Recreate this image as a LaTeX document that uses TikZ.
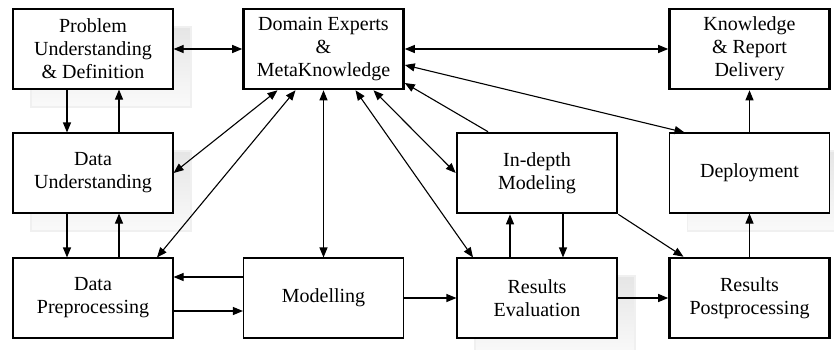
\documentclass[tikz,border=0pt]{standalone}
\usepackage{fontspec}
\setmainfont{Liberation Serif}
\usetikzlibrary{arrows.meta, shadows}

\tikzset{
  box/.style={draw, line width=1.1pt, fill=white, minimum width=160pt,
              minimum height=80pt, align=center, inner sep=2pt,
              font=\fontsize{20}{23}\selectfont},
  keybox/.style={box, line width=2.6pt},
  shadebox/.style={general shadow={shadow xshift=18pt, shadow yshift=-18pt,
              top color=black!10, bottom color=black!2, draw=black!6}},
}

\begin{document}
\begin{tikzpicture}[x=1pt, y=-1pt, line width=1.1pt,
                    >={Triangle[length=10pt,width=8pt]}]
             \useasboundingbox (0,0) rectangle (834,349);
             \node[box, shadebox] (prob)  at (93,49)    {Problem\\Understanding\\\& Definition};
             \node[keybox]        (dom)   at (323.5,49) {Domain Experts\\\&\\MetaKnowledge};
             \node[keybox]        (know)  at (749.5,49) {Knowledge\\\& Report\\Delivery};
             \node[box, shadebox] (und)   at (93,173)   {Data\\Understanding};
             \node[keybox]        (deep)  at (537,173)  {In-depth\\Modeling};
             \node[box, shadebox] (depl)  at (749.5,173) {Deployment};
             \node[box]           (prep)  at (93,298)   {Data\\Preprocessing};
             \node[box]           (model) at (323.5,298) {Modelling};
             \node[box, shadebox] (eval)  at (537,298)  {Results\\Evaluation};
             \node[keybox]        (post)  at (749.5,298) {Results\\Postprocessing};

             \draw [<->] (prob.east) -- (dom.west);
             \draw [<->] (dom.east) -- (know.west);
             \draw [->] ([xshift=-26pt]prob.south) -- ([xshift=-26pt]und.north);
             \draw [->] ([xshift=26pt]und.north) -- ([xshift=26pt]prob.south);
             \draw [->] ([xshift=-26pt]und.south) -- ([xshift=-26pt]prep.north);
             \draw [->] ([xshift=26pt]prep.north) -- ([xshift=26pt]und.south);

             \draw [<->] ([xshift=-46pt]dom.south) -- (und.east);
             \draw [<->] ([xshift=-28pt]dom.south) -- ([xshift=64pt]prep.north);
             \draw [<->] (dom.south) -- (model.north);
             \draw [<->] ([xshift=32pt]dom.south) -- ([xshift=-64pt]eval.north);
             \draw [<->] ([xshift=50pt]dom.south) -- (deep.west);
             \draw [->] ([xshift=-49pt]deep.north) -- ([yshift=-34pt]dom.east);
             \draw [<->] ([yshift=-16pt]dom.east) -- ([xshift=-65pt]depl.north);

             \draw [->] ([xshift=26pt]deep.south) -- ([xshift=26pt]eval.north);
             \draw [->] ([xshift=-27pt]eval.north) -- ([xshift=-27pt]deep.south);
             \draw [->] (deep.south east) -- ([xshift=-66pt]post.north);
             \draw [->] (post.north) -- (depl.south);
             \draw [->] (depl.north) -- (know.south);

             \draw [->] ([yshift=21pt]model.west) -- ([yshift=21pt]prep.east);
             \draw [->] ([yshift=-13pt]prep.east) -- ([yshift=-13pt]model.west);
             \draw [->] (model.east) -- (eval.west);
             \draw [->] (eval.east) -- (post.west);
         \end{tikzpicture}
\end{document}
